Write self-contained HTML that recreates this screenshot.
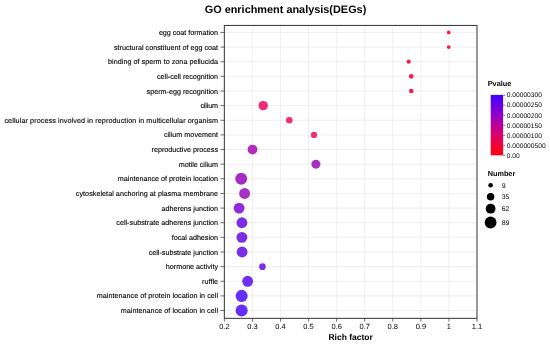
<!DOCTYPE html>
<html><head><meta charset="utf-8"><title>GO enrichment analysis(DEGs)</title>
<style>html,body{margin:0;padding:0;background:#fff}body{width:550px;height:347px;overflow:hidden}</style></head>
<body>
<svg width="550" height="347" viewBox="0 0 550 347" style="display:block" font-family="Liberation Sans, sans-serif" text-rendering="geometricPrecision">
<rect width="550" height="347" fill="#fff"/>
<path d="M224.35 32.45H477.0M224.35 47.09H477.0M224.35 61.72H477.0M224.35 76.36H477.0M224.35 91.00H477.0M224.35 105.64H477.0M224.35 120.27H477.0M224.35 134.91H477.0M224.35 149.55H477.0M224.35 164.18H477.0M224.35 178.82H477.0M224.35 193.46H477.0M224.35 208.09H477.0M224.35 222.73H477.0M224.35 237.37H477.0M224.35 252.00H477.0M224.35 266.64H477.0M224.35 281.28H477.0M224.35 295.92H477.0M224.35 310.55H477.0M252.42 25.45V318.35M280.49 25.45V318.35M308.57 25.45V318.35M336.64 25.45V318.35M364.71 25.45V318.35M392.78 25.45V318.35M420.86 25.45V318.35M448.93 25.45V318.35" stroke="#e9e9e9" stroke-width="0.75" fill="none"/>
<circle cx="448.7" cy="32.45" r="1.85" fill="#f81a3a"/>
<circle cx="448.7" cy="47.09" r="1.85" fill="#f81a3a"/>
<circle cx="408.7" cy="61.72" r="2.1" fill="#f61c42"/>
<circle cx="411.2" cy="76.36" r="2.3" fill="#f61c44"/>
<circle cx="411.2" cy="91.00" r="2.3" fill="#f61c44"/>
<circle cx="263.2" cy="105.64" r="4.7" fill="#ee2a7a"/>
<circle cx="289.3" cy="120.27" r="3.3" fill="#ee2f77"/>
<circle cx="314.0" cy="134.91" r="3.1" fill="#f02d6d"/>
<circle cx="252.5" cy="149.55" r="4.9" fill="#b52bbe"/>
<circle cx="315.9" cy="164.18" r="4.5" fill="#a92fc4"/>
<circle cx="241.2" cy="178.82" r="5.95" fill="#a52dc3"/>
<circle cx="244.6" cy="193.46" r="5.45" fill="#a631c6"/>
<circle cx="239.1" cy="208.09" r="5.45" fill="#8f2dd8"/>
<circle cx="241.9" cy="222.73" r="5.45" fill="#7c2fe4"/>
<circle cx="241.9" cy="237.37" r="5.45" fill="#7a2fe6"/>
<circle cx="242.1" cy="252.00" r="5.45" fill="#7b2fe5"/>
<circle cx="262.45" cy="266.64" r="3.35" fill="#7b2fe8"/>
<circle cx="247.65" cy="281.28" r="5.45" fill="#7030ee"/>
<circle cx="241.65" cy="295.92" r="6.05" fill="#6430f8"/>
<circle cx="241.65" cy="310.55" r="6.05" fill="#6230fa"/>
<rect x="224.35" y="25.45" width="252.65" height="292.90" fill="none" stroke="#3c3c3c" stroke-width="1.05"/>
<path d="M220.45 32.45H224.35M220.45 47.09H224.35M220.45 61.72H224.35M220.45 76.36H224.35M220.45 91.00H224.35M220.45 105.64H224.35M220.45 120.27H224.35M220.45 134.91H224.35M220.45 149.55H224.35M220.45 164.18H224.35M220.45 178.82H224.35M220.45 193.46H224.35M220.45 208.09H224.35M220.45 222.73H224.35M220.45 237.37H224.35M220.45 252.00H224.35M220.45 266.64H224.35M220.45 281.28H224.35M220.45 295.92H224.35M220.45 310.55H224.35M224.35 318.35V321.65000000000003M252.42 318.35V321.65000000000003M280.49 318.35V321.65000000000003M308.57 318.35V321.65000000000003M336.64 318.35V321.65000000000003M364.71 318.35V321.65000000000003M392.78 318.35V321.65000000000003M420.86 318.35V321.65000000000003M448.93 318.35V321.65000000000003M477.00 318.35V321.65000000000003" stroke="#3c3c3c" stroke-width="0.75" fill="none"/>
<g font-size="7.2" fill="#000" text-anchor="end" stroke="#000" stroke-width="0.12">
<text x="218.0" y="35.00" textLength="59.1" lengthAdjust="spacing">egg coat formation</text>
<text x="218.0" y="49.64" textLength="104.0" lengthAdjust="spacing">structural constituent of egg coat</text>
<text x="218.0" y="64.27" textLength="109.9" lengthAdjust="spacing">binding of sperm to zona pellucida</text>
<text x="218.0" y="78.91" textLength="61.0" lengthAdjust="spacing">cell-cell recognition</text>
<text x="218.0" y="93.55" textLength="71.4" lengthAdjust="spacing">sperm-egg recognition</text>
<text x="218.0" y="108.19" textLength="17.6" lengthAdjust="spacing">cilium</text>
<text x="218.0" y="122.82" textLength="213.6" lengthAdjust="spacing">cellular process involved in reproduction in multicellular organism</text>
<text x="218.0" y="137.46" textLength="54.1" lengthAdjust="spacing">cilium movement</text>
<text x="218.0" y="152.10" textLength="66.4" lengthAdjust="spacing">reproductive process</text>
<text x="218.0" y="166.73" textLength="39.2" lengthAdjust="spacing">motile cilium</text>
<text x="218.0" y="181.37" textLength="100.2" lengthAdjust="spacing">maintenance of protein location</text>
<text x="218.0" y="196.01" textLength="142.2" lengthAdjust="spacing">cytoskeletal anchoring at plasma membrane</text>
<text x="218.0" y="210.64" textLength="56.4" lengthAdjust="spacing">adherens junction</text>
<text x="218.0" y="225.28" textLength="101.7" lengthAdjust="spacing">cell-substrate adherens junction</text>
<text x="218.0" y="239.92" textLength="46.2" lengthAdjust="spacing">focal adhesion</text>
<text x="218.0" y="254.56" textLength="69.3" lengthAdjust="spacing">cell-substrate junction</text>
<text x="218.0" y="269.19" textLength="52.2" lengthAdjust="spacing">hormone activity</text>
<text x="218.0" y="283.83" textLength="15.9" lengthAdjust="spacing">ruffle</text>
<text x="218.0" y="298.47" textLength="121.2" lengthAdjust="spacing">maintenance of protein location in cell</text>
<text x="218.0" y="313.10" textLength="97.2" lengthAdjust="spacing">maintenance of location in cell</text>
</g>
<g font-size="7.5" fill="#000" text-anchor="middle">
<text x="224.35" y="329.35">0.2</text>
<text x="252.42" y="329.35">0.3</text>
<text x="280.49" y="329.35">0.4</text>
<text x="308.57" y="329.35">0.5</text>
<text x="336.64" y="329.35">0.6</text>
<text x="364.71" y="329.35">0.7</text>
<text x="392.78" y="329.35">0.8</text>
<text x="420.86" y="329.35">0.9</text>
<text x="448.93" y="329.35">1</text>
<text x="477.00" y="329.35">1.1</text>
</g>
<text x="350.68" y="340.1" font-size="8.5" font-weight="bold" text-anchor="middle" fill="#000">Rich factor</text>
<text x="285.5" y="13.1" font-size="10.9" font-weight="bold" text-anchor="middle" fill="#000">GO enrichment analysis(DEGs)</text>
<defs><linearGradient id="cb" x1="0" y1="0" x2="0" y2="1"><stop offset="0" stop-color="#3c00ff"/><stop offset="0.17" stop-color="#6a00e6"/><stop offset="0.33" stop-color="#9000cc"/><stop offset="0.5" stop-color="#b80099"/><stop offset="0.67" stop-color="#dc0068"/><stop offset="0.83" stop-color="#f40038"/><stop offset="1" stop-color="#ff0014"/></linearGradient></defs>
<text x="487.7" y="85.6" font-size="7.35" font-weight="bold" fill="#000">Pvalue</text>
<rect x="490.7" y="94.9" width="12.4" height="60.4" fill="url(#cb)"/>
<g font-size="6.65" fill="#000">
<text x="506.8" y="97.45">0.00000300</text>
<text x="506.8" y="107.48">0.00000250</text>
<text x="506.8" y="117.51">0.00000200</text>
<text x="506.8" y="127.54">0.00000150</text>
<text x="506.8" y="137.57">0.00000100</text>
<text x="506.8" y="147.60">0.000000500</text>
<text x="506.8" y="157.63">0.00</text>
</g>
<path d="M503.2 95.20h2M503.2 105.23h2M503.2 115.26h2M503.2 125.29h2M503.2 135.32h2M503.2 145.35h2M503.2 155.38h2" stroke="#3a3a3a" stroke-width="0.7" fill="none"/>
<text x="487.7" y="176.4" font-size="7.3" font-weight="bold" fill="#000">Number</text>
<g font-size="6.9" fill="#000">
<circle cx="490.6" cy="185.2" r="2.3" fill="#000"/>
<text x="501.7" y="187.60">9</text>
<circle cx="490.6" cy="196.7" r="3.75" fill="#000"/>
<text x="501.7" y="199.10">35</text>
<circle cx="490.6" cy="208.7" r="4.9" fill="#000"/>
<text x="501.7" y="211.10">62</text>
<circle cx="490.6" cy="222.5" r="5.9" fill="#000"/>
<text x="501.7" y="224.90">89</text>
</g>
</svg>
</body></html>
